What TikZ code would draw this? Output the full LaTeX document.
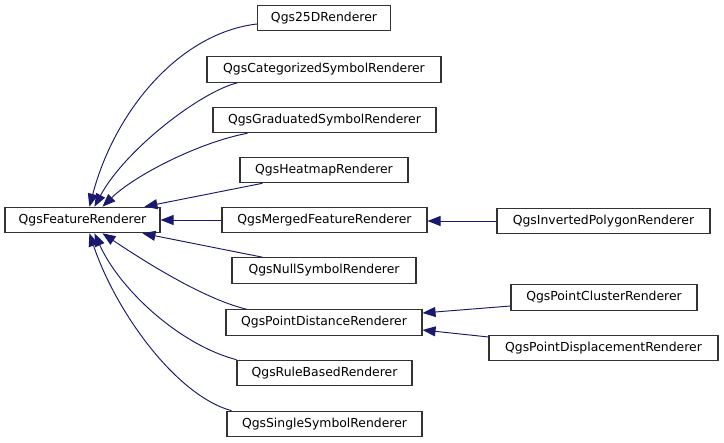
\documentclass[tikz,border=0pt]{standalone}
\usepackage{fontspec}
\setmainfont{DejaVu Sans}
\usetikzlibrary{arrows.meta,calc}
\definecolor{edgeblue}{HTML}{191970}
\definecolor{boxline}{HTML}{333333}
\tikzset{
  cls/.style={draw=boxline, line width=1.1pt, fill=white, inner sep=0pt, minimum height=25.5pt, font=\fontsize{12.4}{14}\selectfont},
  edge/.style={draw=edgeblue, line width=0.95pt, -{Triangle[length=13pt,width=10pt,fill=edgeblue]}}
}
\begin{document}
\begin{tikzpicture}[x=1pt,y=-1pt]
\useasboundingbox (0,0) rectangle (724,443);
\fill[white] (0,0) rectangle (724,443);
\node[cls, minimum width=133pt] (r25) at (324,18) {Qgs25DRenderer};
\node[cls, minimum width=234pt] (cat) at (324,69.5) {QgsCategorizedSymbolRenderer};
\node[cls, minimum width=223pt] (grad) at (324.5,120) {QgsGraduatedSymbolRenderer};
\node[cls, minimum width=168pt] (heat) at (324,170) {QgsHeatmapRenderer};
\node[cls, minimum width=205pt] (merged) at (324.5,220) {QgsMergedFeatureRenderer};
\node[cls, minimum width=213pt] (inv) at (603.5,221) {QgsInvertedPolygonRenderer};
\node[cls, minimum width=184pt] (null) at (324,270.5) {QgsNullSymbolRenderer};
\node[cls, minimum width=196pt] (pdist) at (324,322.5) {QgsPointDistanceRenderer};
\node[cls, minimum width=186pt] (pclus) at (604,297.5) {QgsPointClusterRenderer};
\node[cls, minimum width=229pt] (pdisp) at (603.5,348) {QgsPointDisplacementRenderer};
\node[cls, minimum width=175pt] (rule) at (324.5,373) {QgsRuleBasedRenderer};
\node[cls, minimum width=195pt] (single) at (324.5,424) {QgsSingleSymbolRenderer};
\node[cls, minimum width=155pt] (fr) at (82.5,220) {QgsFeatureRenderer};

\draw[edge] ($(r25.west)+(0,6)$) .. controls (180,33) and (115,110) .. ($(fr.north west)+(85,0)$);
\draw[edge] ($(cat.south west)+(31,0)$) .. controls (200,92) and (125,150) .. ($(fr.north west)+(90,0)$);
\draw[edge] ($(grad.south west)+(35,0)$) .. controls (200,142) and (135,175) .. ($(fr.north west)+(98,0)$);
\draw[edge] ($(heat.south west)+(23,0)$) -- ($(fr.north west)+(140,0)$);
\draw[edge] (merged.west) -- (fr.east);
\draw[edge] ($(null.north west)+(31,0)$) -- ($(fr.south west)+(138,0)$);
\draw[edge] ($(pdist.north west)+(21,0)$) .. controls (200,298) and (135,255) .. ($(fr.south west)+(98,0)$);
\draw[edge] ($(rule.north west)+(0,0)$) .. controls (180,345) and (120,290) .. ($(fr.south west)+(90,0)$);
\draw[edge] ($(single.north west)+(5,0)$) .. controls (175,395) and (115,310) .. ($(fr.south west)+(85,0)$);
\draw[edge] ($(inv.west)$) -- ($(merged.east)+(0,1)$);
\draw[edge] ($(pclus.west)+(0,8.5)$) -- ($(pdist.east)+(0,-9.5)$);
\draw[edge] ($(pdisp.west)+(0,-11)$) -- ($(pdist.east)+(0,7.5)$);
\end{tikzpicture}
\end{document}
